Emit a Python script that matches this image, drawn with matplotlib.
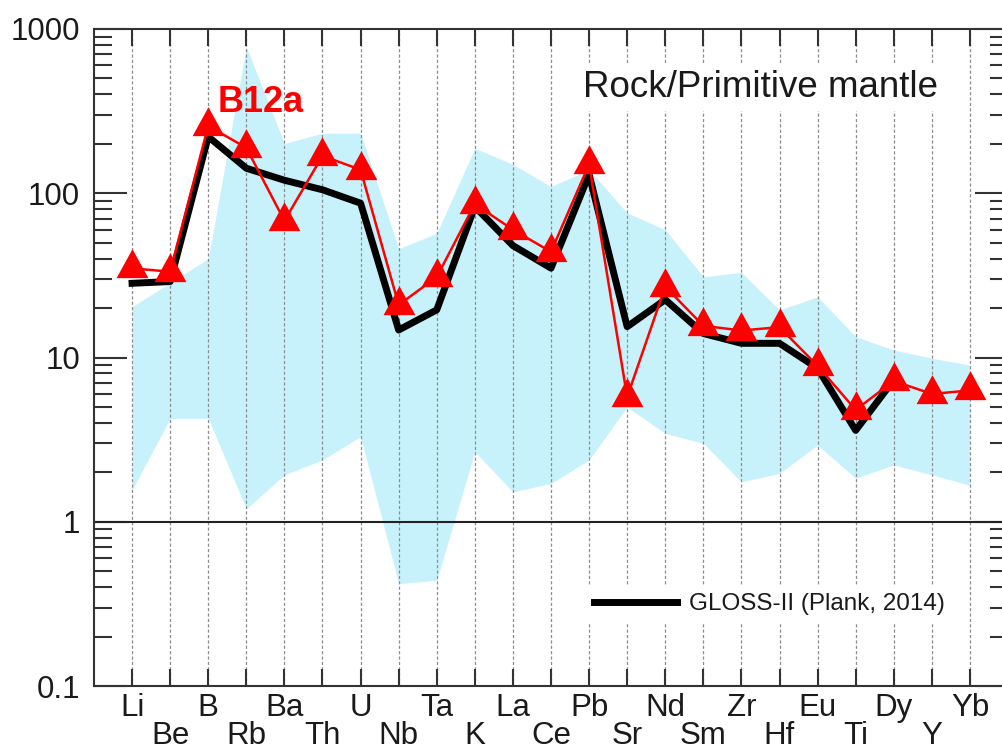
import numpy as np
import matplotlib
matplotlib.use("Agg")
import matplotlib.pyplot as plt
from matplotlib.ticker import FixedLocator, FixedFormatter, NullFormatter, LogLocator

plt.rcParams['font.family'] = ['Liberation Sans', 'DejaVu Sans']

elements = ['Li', 'Be', 'B', 'Rb', 'Ba', 'Th', 'U', 'Nb', 'Ta', 'K', 'La', 'Ce',
            'Pb', 'Sr', 'Nd', 'Sm', 'Zr', 'Hf', 'Eu', 'Ti', 'Dy', 'Y', 'Yb']

b12a = [34.9, 33.3, 257, 189, 68, 169, 139, 20.9, 30.9, 86, 60, 44,
        150, 5.75, 27, 15.6, 14.6, 15.3, 8.9, 4.8, 7.2, 6.0, 6.3]

gloss = [28.3, 29.0, 221, 142, 120, 105, 87, 14.7, 19.5, 83, 48, 35,
         130, 15.4, 22.5, 14.0, 12.2, 12.2, 8.6, 3.6, 7.3]

band_upper = [20.4, 28.5, 40, 780, 201, 232, 232, 46, 57, 188, 150, 110,
              139, 76, 60, 31, 33, 19.5, 23.4, 13.4, 11.1, 9.9, 9.0]
band_lower = [1.56, 4.26, 4.26, 1.2, 1.93, 2.38, 3.3, 0.42, 0.44, 2.67, 1.52, 1.71,
              2.38, 5.0, 3.45, 3.0, 1.75, 1.97, 2.93, 1.84, 2.22, 1.93, 1.67]

yticks = [0.1, 1, 10, 100, 1000]
yticklabels = ['0.1', '1', '10', '100', '1000']

W, H = 1003, 751
fig = plt.figure(figsize=(W / 100, H / 100), dpi=100)
ax = fig.add_axes([94 / W, (H - 686) / H, 914 / W, 657 / H])

x = np.arange(len(elements))
ax.set_yscale('log')
ax.set_xlim(-1, len(elements))
ax.set_ylim(0.1, 1000)

ax.fill_between(x, band_lower, band_upper, color='#c8f2fb', lw=0, zorder=1)
ax.axhline(1, color='#222222', lw=1.5, zorder=1.8)

ax.plot(x[:len(gloss)], gloss, color='black', lw=5, zorder=2,
        label='GLOSS-II (Plank, 2014)')

tri = [(0, 2 / 3), (-0.55, -1 / 3), (0.55, -1 / 3), (0, 2 / 3)]
ax.plot(x, b12a, color='#ff0000', lw=1.8, marker=tri, ms=27.8, mew=0,
        mfc='#ff0000', zorder=3)

# x ticks: alternating label rows
ax.xaxis.remove_overlapping_locs = False
ax.set_xticks(x)
ax.set_xticklabels([e if i % 2 == 0 else '' for i, e in enumerate(elements)])
ax.xaxis.set_minor_locator(FixedLocator(x[1::2]))
ax.xaxis.set_minor_formatter(FixedFormatter(elements[1::2]))
ax.tick_params(axis='x', which='major', direction='in', length=12, width=1.5,
               top=True, bottom=True, pad=5, labelsize=22.5,
               color='#333333', labelcolor='#1a1a1a')
ax.tick_params(axis='x', which='minor', length=0, pad=25.5, labelsize=22.5,
               labelcolor='#1a1a1a', top=False)

ax.set_yticks(yticks)
ax.set_yticklabels(yticklabels)
ax.yaxis.set_minor_locator(LogLocator(base=10, subs=np.arange(2, 10)))
ax.yaxis.set_minor_formatter(NullFormatter())
ax.tick_params(axis='y', which='major', direction='in', length=24, width=1.5,
               left=True, right=True, pad=10, labelsize=22.5,
               color='#333333', labelcolor='#1a1a1a')
ax.tick_params(axis='y', which='minor', direction='in', length=13, width=1.5,
               left=True, right=True, color='#333333')

ax.grid(axis='x', which='major', color='#8c8c8c', linestyle=(0, (2.5, 1.8)), lw=0.9)
ax.grid(axis='y', visible=False)

for s in ax.spines.values():
    s.set_color('#333333')
    s.set_linewidth(1.5)

ax.text((261 - 94) / 914, (686 - 112) / 657, 'B12a', transform=ax.transAxes,
        ha='center', va='baseline', fontsize=26, fontweight='bold',
        color='#ff0000', zorder=4)

ax.text((583 - 94) / 914, (686 - 97) / 657, 'Rock/Primitive mantle',
        transform=ax.transAxes, ha='left', va='baseline', fontsize=26.5,
        color='#1a1a1a', zorder=4,
        bbox=dict(boxstyle='square,pad=0.15', fc='white', ec='none'))

leg = ax.legend(loc='center left', bbox_to_anchor=((587 - 94) / 914, (686 - 604) / 657),
                borderaxespad=0, fontsize=17.5, handlelength=3.4, handletextpad=0.5,
                borderpad=0.3, frameon=True, fancybox=False)
leg.get_frame().set_facecolor('white')
leg.get_frame().set_edgecolor('none')
leg.get_frame().set_alpha(1)
leg.set_zorder(5)
for t in leg.get_texts():
    t.set_color('#1a1a1a')

fig.savefig('out.png', dpi=100)
